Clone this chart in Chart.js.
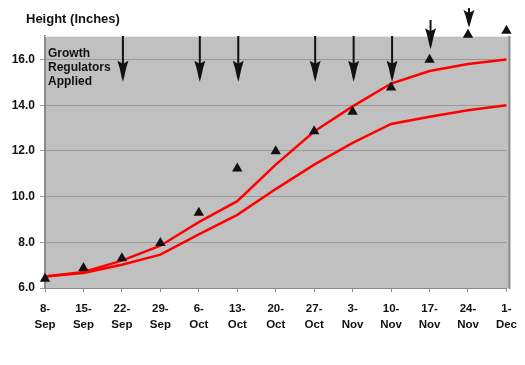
<!DOCTYPE html>
<html><head><meta charset="utf-8">
<script src="https://cdn.jsdelivr.net/npm/chart.js@4/dist/chart.umd.min.js"></script>
<style>html,body{margin:0;padding:0;background:#fff}#wrap{width:525px;height:365px;position:relative}</style>
</head><body><div id="wrap"><canvas id="c"></canvas></div>
<script>
// ---- data ----
const categories = [['8-','Sep'],['15-','Sep'],['22-','Sep'],['29-','Sep'],['6-','Oct'],['13-','Oct'],['20-','Oct'],['27-','Oct'],['3-','Nov'],['10-','Nov'],['17-','Nov'],['24-','Nov'],['1-','Dec']];
const upperCurve = [6.5, 6.7, 7.2, 7.85, 8.88, 9.8, 11.4, 12.85, 13.95, 14.95, 15.5, 15.8, 16.0];
const lowerCurve = [6.5, 6.66, 7.02, 7.46, 8.35, 9.2, 10.33, 11.4, 12.35, 13.18, 13.5, 13.78, 14.0];
const measuredHeight = [6.4, 6.87, 7.3, 7.97, 9.29, 11.23, 11.99, 12.86, 13.71, 14.78, 15.99, 17.08, 17.26];
const yTickValues = [6, 8, 10, 12, 14, 16];
const yMin = 6, yMax = 17.03;
const arrowIndex = [2, 4, 5, 7, 8, 9, 10, 11];
const arrowTop = [17.03, 17.03, 17.03, 17.03, 17.03, 17.03, 17.73, 18.25];
const arrowTip = [15.03, 15.03, 15.03, 15.03, 15.03, 15.03, 16.45, 17.4];
const titleText = 'Height (Inches)';
const noteLines = ['Growth', 'Regulators', 'Applied'];

const FONT = "'Liberation Sans', Arial, sans-serif";
Chart.defaults.font.family = FONT;

const decor = {
  id: 'decor',
  beforeDraw(chart) {
    const {ctx, chartArea: a} = chart;
    ctx.save();
    ctx.fillStyle = '#c0c0c0';
    ctx.fillRect(a.left, a.top, a.right - a.left + 3, a.bottom - a.top);
    ctx.restore();
  },
  beforeDatasetsDraw(chart) {
    const {ctx, chartArea: a} = chart;
    ctx.save();
    ctx.lineWidth = 1;
    ctx.strokeStyle = '#e6e6e6';
    ctx.beginPath(); ctx.moveTo(a.left, a.top + 0.5); ctx.lineTo(a.right + 3, a.top + 0.5); ctx.stroke();
    ctx.strokeStyle = '#8a8a8a';
    ctx.lineWidth = 2;
    ctx.beginPath(); ctx.moveTo(a.right + 3, a.top); ctx.lineTo(a.right + 3, a.bottom + 1); ctx.stroke();
    ctx.restore();
    // note text
    ctx.save();
    ctx.fillStyle = '#111';
    ctx.font = 'bold 12px ' + FONT;
    ctx.textBaseline = 'alphabetic';
    noteLines.forEach((t, i) => ctx.fillText(t, a.left + 3, 57 + i * 14.2));
    ctx.restore();
  },
  afterDatasetsDraw(chart) {
    const {ctx} = chart;
    const xs = chart.scales.x, ys = chart.scales.y;
    ctx.save();
    ctx.fillStyle = '#111';
    ctx.strokeStyle = '#111';
    arrowIndex.forEach((idx, i) => {
      const x = xs.getPixelForValue(idx) + 1;
      const yt = ys.getPixelForValue(arrowTop[i]);
      const yb = ys.getPixelForValue(arrowTip[i]);
      const headLen = Math.min(21, (yb - yt) * 0.9);
      const hs = yb - headLen;
      ctx.lineWidth = 2;
      ctx.beginPath(); ctx.moveTo(x, yt); ctx.lineTo(x, hs + 4); ctx.stroke();
      ctx.beginPath();
      ctx.moveTo(x, hs + 3);
      ctx.lineTo(x - 5.5, hs);
      ctx.lineTo(x - 3.3, hs + headLen * 0.35);
      ctx.lineTo(x - 1.2, hs + headLen * 0.8);
      ctx.lineTo(x, yb);
      ctx.lineTo(x + 1.2, hs + headLen * 0.8);
      ctx.lineTo(x + 3.3, hs + headLen * 0.35);
      ctx.lineTo(x + 5.5, hs);
      ctx.closePath();
      ctx.fill();
    });
    ctx.restore();
  },
  afterDraw(chart) {
    const {ctx} = chart;
    ctx.save();
    ctx.fillStyle = '#111';
    ctx.font = 'bold 13px ' + FONT;
    ctx.textBaseline = 'alphabetic';
    ctx.fillText(titleText, 26, 22.5);
    ctx.restore();
  }
};

new Chart(document.getElementById('c'), {
  type: 'line',
  data: {
    labels: categories,
    datasets: [
      { label: 'Measured', data: measuredHeight, showLine: false, pointStyle: 'triangle',
        pointRadius: 6, pointBackgroundColor: '#111', pointBorderColor: '#111', pointBorderWidth: 0, clip: false },
      { label: 'Upper', data: upperCurve, borderColor: '#ff0000', borderWidth: 2.5, pointRadius: 0, tension: 0, fill: false },
      { label: 'Lower', data: lowerCurve, borderColor: '#ff0000', borderWidth: 2.5, pointRadius: 0, tension: 0, fill: false }
    ]
  },
  options: {
    responsive: true, maintainAspectRatio: false, animation: false,
    layout: { padding: { top: 36, right: 15, left: 0, bottom: 27 } },
    plugins: { legend: { display: false }, tooltip: { enabled: false }, title: { display: false } },
    scales: {
      x: {
        type: 'category', offset: false,
        afterFit(s) { s.height = 50; },
        grid: { drawOnChartArea: false, drawTicks: true, tickLength: 4, color: '#8a8a8a' },
        border: { display: true, color: '#8a8a8a', width: 1 },
        ticks: { color: '#111', font: { size: 11.5, weight: 'bold', lineHeight: 1.45 }, padding: 8, maxRotation: 0, autoSkip: false }
      },
      y: {
        min: yMin, max: yMax,
        afterFit(s) { s.width = 45; },
        afterBuildTicks(s) { s.ticks = yTickValues.map(v => ({ value: v })); },
        grid: { color: '#999999', tickLength: 5, lineWidth: 1 },
        border: { display: true, color: '#8a8a8a', width: 2 },
        ticks: { color: '#111', font: { size: 12, weight: 'bold' }, padding: 5, callback: v => Number(v).toFixed(1) }
      }
    }
  },
  plugins: [decor]
});
</script>
</body></html>
